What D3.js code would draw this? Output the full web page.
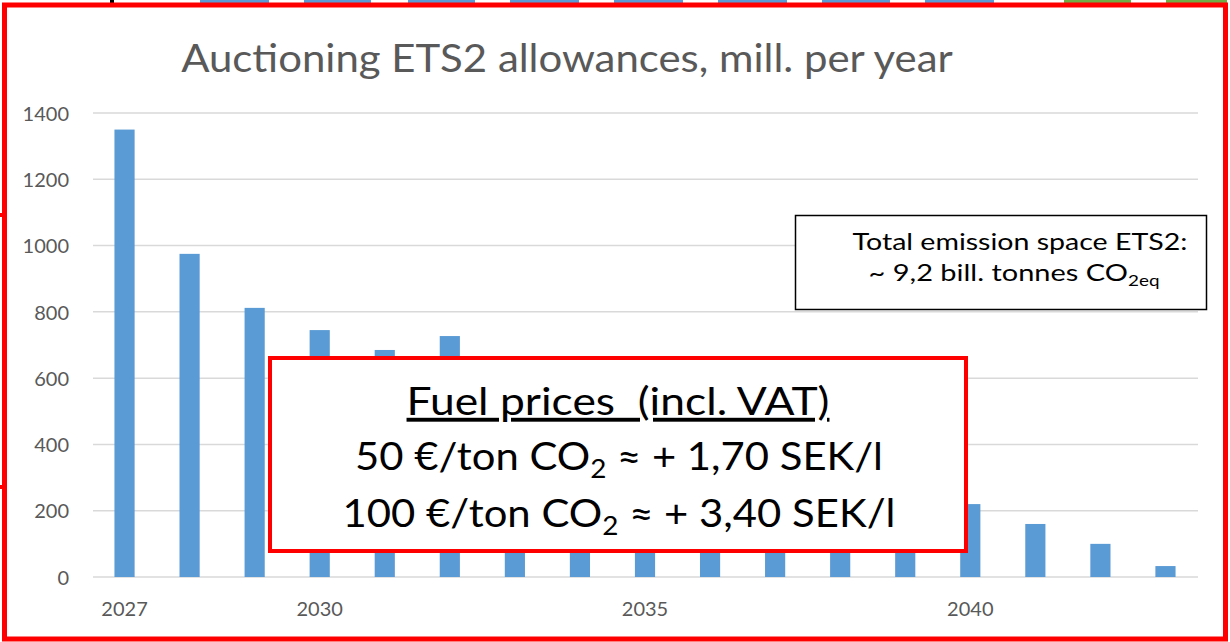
<!DOCTYPE html>
<html>
<head>
<meta charset="utf-8">
<script src="https://cdn.jsdelivr.net/npm/d3@7"></script>
<style>
  html, body { margin: 0; padding: 0; background: #fff; }
  svg { display: block; font-family: Lato, "Open Sans", sans-serif; }
</style>
</head>
<body>
<script>
// data
var years = ["2027", "2028", "2029", "2030", "2031", "2032", "2033", "2034", "2035",
             "2036", "2037", "2038", "2039", "2040", "2041", "2042", "2043"];
var allowances = [1350, 975, 812, 745, 685, 727, 660, 600, 540, 480, 420, 360, 290, 220, 160, 100, 33];
var yTicks = [0, 200, 400, 600, 800, 1000, 1200, 1400];
var xTickYears = ["2027", "2030", "2035", "2040"];

var titleText = "Auctioning ETS2 allowances, mill. per year";
var noteLines = ["Total emission space ETS2:", "~ 9,2 bill. tonnes CO"];
var priceHead = "Fuel prices  (incl. VAT)";
var priceLines = [["50 €/ton CO", "2", " ≈ + 1,70 SEK/l"], ["100 €/ton CO", "2", " ≈ + 3,40 SEK/l"]];

var size = ({ width: 1230, height: 642 });
var plot = ({ left: 92, right: 1198, top: 113, bottom: 577 });

var svg = d3.select("body").append("svg")
            .attr("width", size.width)
            .attr("height", size.height);

// squeeze text horizontally so it fits the width it has in the picture
function fitWidth(sel, target, cx) {
  var w = sel.node().getBBox().width;
  var k = target / w;
  sel.attr("transform", "translate(" + cx + ",0) scale(" + k + ",1) translate(" + (-cx) + ",0)");
}

// bits of the slide behind the chart, poking out above the frame
var slideBits = [[200, 269, "#5b9bd5"], [304, 371, "#5b9bd5"], [408, 475, "#5b9bd5"], [510, 579, "#5b9bd5"],
                 [614, 683, "#5b9bd5"], [718, 787, "#5b9bd5"], [822, 890, "#5b9bd5"], [925, 994, "#5b9bd5"],
                 [1064, 1131, "#70ad47"], [1166, 1227, "#70ad47"], [110, 114, "#000"]];
svg.selectAll(".bit")
   .data(slideBits)
   .enter()
   .append("rect")
   .attr("x", d => d[0])
   .attr("y", 0)
   .attr("width", d => d[1] - d[0])
   .attr("height", 3)
   .attr("fill", d => d[2]);

var x_scale = d3.scaleBand()
                .domain(years)
                .range([plot.left, plot.right])
                .paddingInner(0.69)
                .paddingOuter(0.345);

var y_scale = d3.scaleLinear()
                .domain([0, 1400])
                .range([plot.bottom, plot.top]);

// gridlines
svg.append("g")
   .selectAll("line")
   .data(yTicks)
   .enter()
   .append("line")
   .attr("x1", plot.left + 1)
   .attr("x2", plot.right)
   .attr("y1", d => y_scale(d))
   .attr("y2", d => y_scale(d))
   .attr("stroke", "#d9d9d9")
   .attr("stroke-width", 1.5);

// y labels
var yAxis = d3.axisLeft(y_scale)
              .tickValues(yTicks)
              .tickFormat(d3.format("d"))
              .tickSize(0)
              .tickPadding(0);
var gy = svg.append("g")
            .attr("transform", "translate(69,0)")
            .call(yAxis);
gy.select(".domain").remove();
gy.selectAll("text")
  .attr("fill", "#595959")
  .attr("font-size", 20)
  .attr("font-family", "Lato, sans-serif")
  .attr("dy", "0.36em");

// x labels
var xAxis = d3.axisBottom(x_scale).tickValues(xTickYears).tickSize(0).tickPadding(0);
var gx = svg.append("g")
            .attr("transform", "translate(0,602)")
            .call(xAxis);
gx.select(".domain").remove();
gx.selectAll("text")
  .attr("fill", "#595959")
  .attr("font-size", 20)
  .attr("font-family", "Lato, sans-serif")
  .attr("dy", "0.72em");

// bars
svg.append("g")
   .selectAll("rect")
   .data(allowances)
   .enter()
   .append("rect")
   .attr("x", (d, i) => x_scale(years[i]))
   .attr("width", x_scale.bandwidth())
   .attr("y", d => y_scale(d))
   .attr("height", d => y_scale(0) - y_scale(d))
   .attr("fill", "#5b9bd5");

// title
var title = svg.append("text")
               .attr("x", 567)
               .attr("y", 72)
               .attr("text-anchor", "middle")
               .attr("font-size", 38)
               .attr("fill", "#595959")
               .text(titleText);
fitWidth(title, 772, 567);

// note box on the right
svg.append("rect")
   .attr("x", 795.5).attr("y", 215.5)
   .attr("width", 411).attr("height", 94)
   .attr("fill", "#fff")
   .attr("stroke", "#000")
   .attr("stroke-width", 1.5);

var n1 = svg.append("text")
            .attr("x", 1020).attr("y", 250)
            .attr("text-anchor", "middle")
            .attr("font-size", 23)
            .attr("fill", "#000")
            .text(noteLines[0]);
fitWidth(n1, 335, 1020);

var n2 = svg.append("text")
            .attr("x", 1014).attr("y", 281)
            .attr("text-anchor", "middle")
            .attr("font-size", 23)
            .attr("fill", "#000");
n2.append("tspan").text(noteLines[1]);
n2.append("tspan").attr("font-size", 15).attr("dy", 5).text("2eq");
fitWidth(n2, 291, 1014);

// fuel price box
svg.append("rect")
   .attr("x", 270).attr("y", 358)
   .attr("width", 696).attr("height", 193)
   .attr("fill", "#fff")
   .attr("stroke", "#ff0000")
   .attr("stroke-width", 4);

var h = svg.append("text")
           .attr("x", 618).attr("y", 415)
           .attr("text-anchor", "middle")
           .attr("font-size", 39)
           .attr("fill", "#000")
           .style("white-space", "pre")
           .style("text-decoration", "underline")
           .text(priceHead);
fitWidth(h, 423, 618);

var priceY = [470, 527];
var priceW = [528, 553];
priceLines.forEach((parts, i) => {
  var t = svg.append("text")
             .attr("x", 619).attr("y", priceY[i])
             .attr("text-anchor", "middle")
             .attr("font-size", 39)
             .attr("fill", "#000")
             .style("white-space", "pre");
  t.append("tspan").text(parts[0]);
  t.append("tspan").attr("font-size", 26).attr("dy", 8).text(parts[1]);
  t.append("tspan").attr("dy", -8).text(parts[2]);
  fitWidth(t, priceW[i], 619);
});

// red frame round the whole chart, with the stubs on the left
svg.append("rect")
   .attr("x", 4.5).attr("y", 5)
   .attr("width", 1221).attr("height", 634)
   .attr("fill", "none")
   .attr("stroke", "#ff0000")
   .attr("stroke-width", 5);
svg.selectAll(".stub")
   .data([215, 487])
   .enter()
   .append("rect")
   .attr("x", 0).attr("y", d => d - 2)
   .attr("width", 6).attr("height", 4)
   .attr("fill", "#ff0000");
</script>
</body>
</html>
